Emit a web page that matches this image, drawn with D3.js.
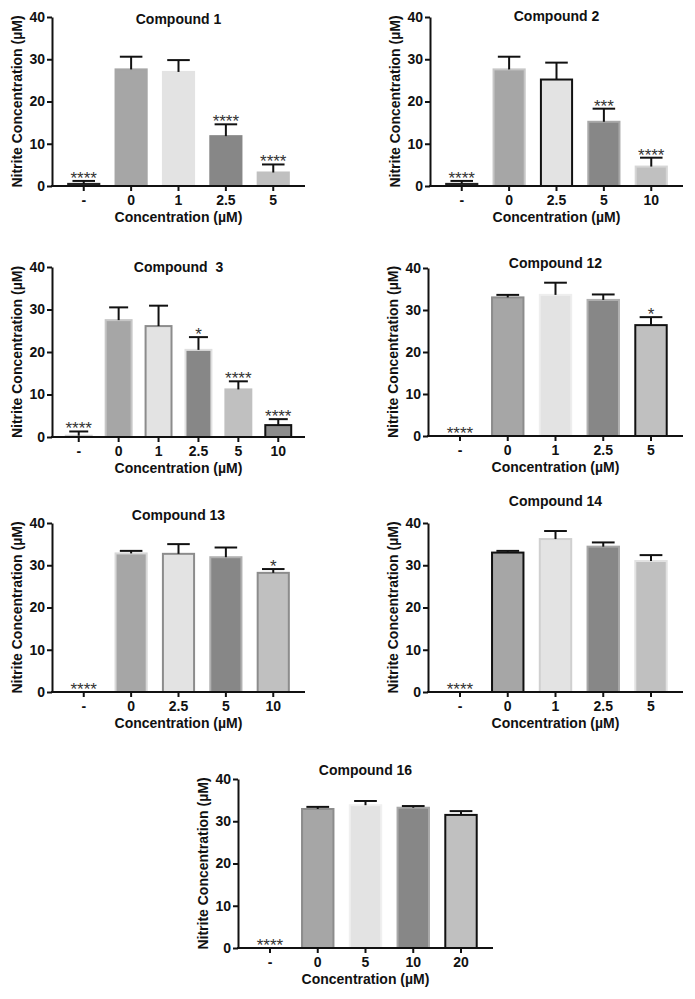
<!DOCTYPE html>
<html>
<head>
<meta charset="utf-8">
<script src="https://cdn.jsdelivr.net/npm/d3@7"></script>
<style>
  html, body { margin: 0; padding: 0; background: #fff; }
  svg { display: block; }
  text { font-family: "Liberation Sans", Arial, Helvetica, sans-serif; }
</style>
</head>
<body>
<svg id="chart" width="695" height="999"></svg>
<script>
// ---------- DATA ----------
const titles = ["Compound 1", "Compound 2", "Compound  3", "Compound 12", "Compound 13", "Compound 14", "Compound 16"];

const categories1 = ["-", "0", "1", "2.5", "5"];
const means1 = [0.5, 27.6, 27.0, 11.8, 3.2];
const sd1 = [0.7, 3.0, 2.8, 2.8, 1.9];
const stars1 = ["****", "", "", "****", "****"];

const categories2 = ["-", "0", "2.5", "5", "10"];
const means2 = [0.5, 27.6, 25.2, 15.2, 4.6];
const sd2 = [0.7, 3.0, 4.0, 3.1, 2.1];
const stars2 = ["****", "", "", "***", "****"];

const categories3 = ["-", "0", "1", "2.5", "5", "10"];
const means3 = [0.3, 27.5, 26.1, 20.5, 11.2, 2.8];
const sd3 = [1.0, 3.0, 4.8, 3.0, 1.9, 1.4];
const stars3 = ["****", "", "", "*", "****", "****"];

const categories12 = ["-", "0", "1", "2.5", "5"];
const means12 = [0, 33.0, 33.6, 32.4, 26.4];
const sd12 = [0, 0.6, 2.9, 1.3, 1.9];
const stars12 = ["****", "", "", "", "*"];

const categories13 = ["-", "0", "2.5", "5", "10"];
const means13 = [0, 32.8, 32.7, 31.9, 28.2];
const sd13 = [0, 0.6, 2.3, 2.3, 0.9];
const stars13 = ["****", "", "", "", "*"];

const categories14 = ["-", "0", "1", "2.5", "5"];
const means14 = [0, 33.0, 36.2, 34.4, 31.0];
const sd14 = [0, 0.4, 1.9, 1.0, 1.4];
const stars14 = ["****", "", "", "", ""];

const categories16 = ["-", "0", "5", "10", "20"];
const means16 = [0, 32.9, 33.8, 33.2, 31.5];
const sd16 = [0, 0.5, 1.0, 0.4, 0.9];
const stars16 = ["****", "", "", "", ""];

const yTicks = [0, 10, 20, 30, 40];
const yTitle = "Nitrite Concentration (\u00B5M)";
const xTitle = "Concentration (\u00B5M)";

// ---------- STYLES / LAYOUT ----------
const fills5 = ["#3a3a3a", "#a6a6a6", "#e3e3e3", "#878787", "#c0c0c0"];
const fills0 = ["#ffffff", "#a6a6a6", "#e3e3e3", "#878787", "#c0c0c0"];
const fills6 = ["#d8d8d8", "#a6a6a6", "#e3e3e3", "#878787", "#c0c0c0", "#8c8c8c"];
const outlines = [
  ["#222222", "#a6a6a6", "#e3e3e3", "#878787", "#c0c0c0"],
  ["#222222", "#c6c6c6", "#111111", "#a8a8a8", "#d6d6d6"],
  ["#d0d0d0", "#c6c6c6", "#8c8c8c", "#e0e0e0", "#c0c0c0", "#111111"],
  ["none", "#8c8c8c", "#eeeeee", "#b0b0b0", "#111111"],
  ["none", "#d8d8d8", "#8c8c8c", "#b0b0b0", "#8c8c8c"],
  ["none", "#111111", "#d0d0d0", "#a6a6a6", "#e2e2e2"],
  ["none", "#8c8c8c", "#f0f0f0", "#a8a8a8", "#111111"]
];
const boxes = [
  {x0: 52, x1: 305, y0: 17, y1: 186, ty: 24},
  {x0: 430, x1: 683, y0: 17, y1: 186, ty: 21},
  {x0: 52, x1: 305, y0: 267, y1: 437, ty: 272},
  {x0: 428, x1: 683, y0: 268, y1: 436, ty: 268},
  {x0: 52, x1: 305, y0: 523, y1: 692, ty: 520},
  {x0: 428, x1: 683, y0: 523, y1: 692, ty: 506},
  {x0: 238, x1: 493, y0: 779, y1: 948, ty: 775}
];

const panels = [
  {cats: categories1, means: means1, sd: sd1, stars: stars1, fills: fills5},
  {cats: categories2, means: means2, sd: sd2, stars: stars2, fills: fills5},
  {cats: categories3, means: means3, sd: sd3, stars: stars3, fills: fills6},
  {cats: categories12, means: means12, sd: sd12, stars: stars12, fills: fills0},
  {cats: categories13, means: means13, sd: sd13, stars: stars13, fills: fills0},
  {cats: categories14, means: means14, sd: sd14, stars: stars14, fills: fills0},
  {cats: categories16, means: means16, sd: sd16, stars: stars16, fills: fills0}
];

const svg = d3.select("#chart");
const FONT = '"Liberation Sans", Arial, sans-serif';

panels.forEach((p, i) => {
  const b = boxes[i];
  const g = svg.append("g");
  const x = d3.scaleBand().domain(p.cats).range([b.x0, b.x1]).paddingInner(0.3).paddingOuter(0.32);
  const y = d3.scaleLinear().domain([0, 40]).range([b.y1, b.y0]);
  const bw = x.bandwidth();
  const data = p.cats.map((c, j) => ({c, m: p.means[j], s: p.sd[j], st: p.stars[j], j}));

  // bars
  g.selectAll("rect.bar").data(data.filter(d => d.m > 0)).join("rect")
    .attr("class", "bar")
    .attr("x", d => x(d.c) + 1)
    .attr("width", bw - 2)
    .attr("y", d => y(d.m))
    .attr("height", d => y(0) - y(d.m))
    .attr("fill", d => p.fills[d.j])
    .attr("stroke", d => outlines[i][d.j])
    .attr("stroke-width", 2);

  // error bars (upper)
  const eb = data.filter(d => d.s > 0);
  const cw = bw * 0.68;
  g.selectAll("line.ev").data(eb).join("line")
    .attr("x1", d => x(d.c) + bw / 2).attr("x2", d => x(d.c) + bw / 2)
    .attr("y1", d => y(d.m)).attr("y2", d => y(d.m + d.s))
    .attr("stroke", "#111").attr("stroke-width", 2);
  g.selectAll("line.ec").data(eb).join("line")
    .attr("x1", d => x(d.c) + bw / 2 - cw / 2).attr("x2", d => x(d.c) + bw / 2 + cw / 2)
    .attr("y1", d => y(d.m + d.s)).attr("y2", d => y(d.m + d.s))
    .attr("stroke", "#111").attr("stroke-width", 2);

  // significance stars
  g.selectAll("text.star").data(data.filter(d => d.st)).join("text")
    .attr("x", d => x(d.c) + bw / 2)
    .attr("y", d => y(d.m + d.s) + 3)
    .attr("text-anchor", "middle")
    .attr("font-size", 17)
    .attr("fill", "#333")
    .text(d => d.st);

  // y axis
  const ya = g.append("g").attr("transform", `translate(${b.x0},0)`)
    .call(d3.axisLeft(y).tickValues(yTicks).tickSize(5).tickSizeOuter(0).tickPadding(2));
  ya.select(".domain").attr("stroke", "#111").attr("stroke-width", 2);
  ya.selectAll(".tick line").attr("stroke", "#111").attr("stroke-width", 2);
  ya.selectAll(".tick text").attr("font-size", 14).attr("font-weight", "bold").attr("fill", "#111")
    .style("font-family", FONT);

  // x axis
  const xa = g.append("g").attr("transform", `translate(0,${b.y1})`)
    .call(d3.axisBottom(x).tickSize(5).tickSizeOuter(0).tickPadding(4));
  xa.select(".domain").attr("stroke", "#111").attr("stroke-width", 2)
    .attr("d", `M${b.x0 - 1},0H${b.x1}`);
  xa.selectAll(".tick line").attr("stroke", "#111").attr("stroke-width", 2);
  xa.selectAll(".tick text").attr("font-size", 14).attr("font-weight", "bold").attr("fill", "#111")
    .style("font-family", FONT);

  // titles
  g.append("text")
    .attr("x", (b.x0 + b.x1) / 2).attr("y", b.ty)
    .attr("text-anchor", "middle").attr("font-size", 14).attr("font-weight", "bold").attr("fill", "#111")
    .attr("xml:space", "preserve").style("white-space", "pre")
    .text(titles[i]);
  g.append("text")
    .attr("x", (b.x0 + b.x1) / 2).attr("y", b.y1 + 36)
    .attr("text-anchor", "middle").attr("font-size", 14).attr("font-weight", "bold").attr("fill", "#111")
    .text(xTitle);
  g.append("text")
    .attr("transform", `translate(${b.x0 - 30},${(b.y0 + b.y1) / 2}) rotate(-90)`)
    .attr("text-anchor", "middle").attr("font-size", 14).attr("font-weight", "bold").attr("fill", "#111")
    .text(yTitle);
});
</script>
</body>
</html>
